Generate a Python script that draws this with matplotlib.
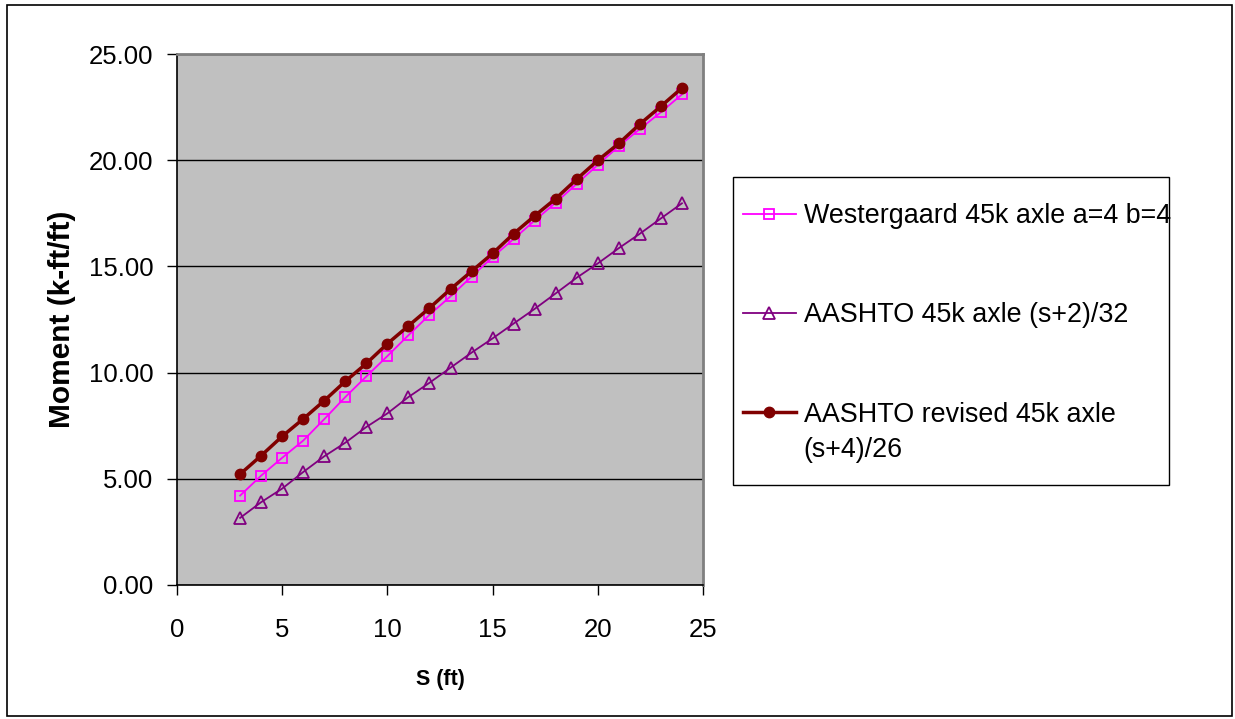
import numpy as np
import matplotlib.pyplot as plt
from matplotlib.patches import Rectangle

plt.rcParams['font.family'] = ['Liberation Sans', 'DejaVu Sans']

# span values (ft)
s = [3, 4, 5, 6, 7, 8, 9, 10, 11, 12, 13, 14, 15, 16, 17, 18, 19, 20, 21, 22, 23, 24]

# moments (k-ft/ft)
westergaard = [4.21, 5.15, 5.99, 6.80, 7.81, 8.85, 9.82, 10.78, 11.76, 12.72, 13.59,
               14.52, 15.44, 16.29, 17.16, 18.00, 18.89, 19.78, 20.66, 21.47, 22.26, 23.10]
aashto = [3.16, 3.90, 4.54, 5.32, 6.06, 6.70, 7.44, 8.08, 8.85, 9.52, 10.23,
          10.94, 11.61, 12.31, 13.00, 13.73, 14.47, 15.14, 15.86, 16.54, 17.26, 17.97]
aashto_rev = [5.22, 6.09, 7.00, 7.82, 8.68, 9.59, 10.43, 11.36, 12.20, 13.04, 13.93,
              14.77, 15.61, 16.54, 17.38, 18.19, 19.11, 19.99, 20.79, 21.70, 22.54, 23.40]

labels = ['Westergaard 45k axle a=4 b=4',
          'AASHTO 45k axle (s+2)/32',
          'AASHTO revised 45k axle']
label3_cont = '(s+4)/26'  # second line of the third legend label

W, H = 1235, 719
fig = plt.figure(figsize=(W / 100, H / 100), dpi=100)
ax = fig.add_axes([177 / W, 1 - 585 / H, (703 - 177) / W, (585 - 54) / H])
ax.set_facecolor('#C0C0C0')

ax.plot(s, westergaard, color='#FF00FF', lw=1.3, marker='s', ms=7,
        mfc='none', mec='#FF00FF', mew=1.3, label=labels[0], zorder=3)
ax.plot(s, aashto, color='#800080', lw=1.3, marker='^', ms=9,
        mfc='none', mec='#800080', mew=1.3, label=labels[1], zorder=3)
ax.plot(s, aashto_rev, color='#800000', lw=2.5, marker='o', ms=7.5,
        mfc='#800000', mec='#800000', label=labels[2], zorder=4)

ax.set_xlim(0, 25)
ax.set_ylim(0, 25)
ax.set_xticks(np.arange(0, 26, 5))
ax.set_yticks(np.arange(0, 26, 5))
ax.set_yticklabels(['%.2f' % v for v in np.arange(0, 26, 5)])
ax.yaxis.grid(True, color='black', lw=1.0)
ax.set_axisbelow(True)
ax.tick_params(direction='out', length=7, width=1, labelsize=18.5)
ax.tick_params(axis='x', pad=17)
ax.tick_params(axis='y', pad=10)

for side in ['top', 'right']:
    ax.spines[side].set_color('#808080')
    ax.spines[side].set_linewidth(2)
for side in ['left', 'bottom']:
    ax.spines[side].set_color('black')
    ax.spines[side].set_linewidth(1.2)

ax.set_xlabel('S (ft)', fontsize=15.5, fontweight='bold', labelpad=19)
ax.set_ylabel('Moment (k-ft/ft)', fontsize=21.5, fontweight='bold', labelpad=9)

# legend box drawn separately so its size matches the original
fig.patches.append(Rectangle((733 / W, 1 - 485 / H), (1169 - 733) / W, (485 - 177) / H,
                             transform=fig.transFigure, fill=False,
                             edgecolor='black', lw=1.0))
leg = fig.legend(loc='upper left', bbox_to_anchor=(743 / W, 1 - 203 / H),
                 fontsize=19.4, frameon=False,
                 handlelength=1.95, handletextpad=0.3, labelspacing=2.72,
                 borderpad=0, borderaxespad=0)

# continuation line of the third label, placed under its first line
fig.canvas.draw()
bb = leg.get_texts()[2].get_window_extent()
fig.text(bb.x0 / W, (bb.y0 - 35 + bb.height / 2) / H, label3_cont,
         fontsize=19.4, va='center', ha='left')

fig.patches.append(Rectangle((7 / W, 1 - 716 / H), (1232 - 7) / W, (716 - 5) / H,
                             transform=fig.transFigure, fill=False,
                             edgecolor='black', lw=1.2))

fig.savefig('out.png', dpi=100)
